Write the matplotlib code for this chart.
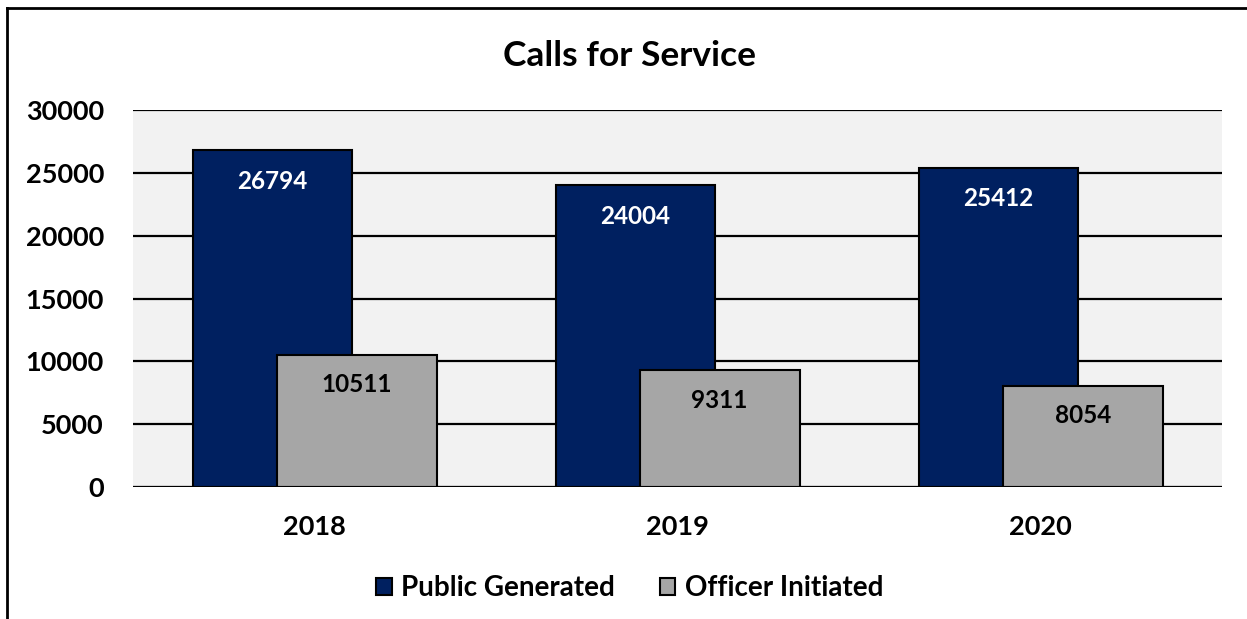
import matplotlib.pyplot as plt
from matplotlib.lines import Line2D
import numpy as np

years = ["2018", "2019", "2020"]
public_generated = [26794, 24004, 25412]
officer_initiated = [10511, 9311, 8054]

plt.rcParams['font.family'] = ['Lato', 'DejaVu Sans']
plt.rcParams['font.weight'] = 'bold'

fig = plt.figure(figsize=(12.47, 6.19), dpi=100)
ax = fig.add_axes([0.1067, 0.2132, 0.8733, 0.6091])
ax.set_facecolor('#F2F2F2')

x = np.arange(len(years))
w = 0.44
off = 0.116
b1 = ax.bar(x - off, public_generated, w, color='#002060', edgecolor='black', linewidth=1.5, zorder=3, label='Public Generated')
b2 = ax.bar(x + off, officer_initiated, w, color='#A6A6A6', edgecolor='black', linewidth=1.5, zorder=4, label='Officer Initiated')

for rect, v in zip(b1, public_generated):
    ax.annotate(str(v), (rect.get_x() + rect.get_width() / 2, v), xytext=(0, -31), textcoords='offset pixels',
                ha='center', va='center', color='white', fontsize=17.5, fontweight='bold', zorder=5)
for rect, v in zip(b2, officer_initiated):
    ax.annotate(str(v), (rect.get_x() + rect.get_width() / 2, v), xytext=(0, -30), textcoords='offset pixels',
                ha='center', va='center', color='black', fontsize=17.5, fontweight='bold', zorder=5)

ax.set_xlim(-0.5, 2.5)
ax.set_ylim(0, 30000)
ax.set_yticks(range(0, 30001, 5000))
ax.set_xticks(x)
ax.set_xticklabels(years)
ax.yaxis.grid(True, color='black', linewidth=1.6, zorder=1)
ax.set_axisbelow(True)
for s in ax.spines.values():
    s.set_visible(False)
ax.tick_params(axis='both', length=0, labelsize=19.5)
ax.tick_params(axis='y', pad=21)
ax.tick_params(axis='x', pad=20)
ax.axhline(0, color='black', linewidth=2.2, zorder=6)

fig.text(0.505, 0.909, "Calls for Service", ha='center', va='center', fontsize=25.5, fontweight='bold')

fig.legend(handles=[b1, b2], loc='center', bbox_to_anchor=(0.505, 0.05), ncol=2, frameon=False,
           fontsize=20, handlelength=0.55, handleheight=0.55, handletextpad=0.35, columnspacing=1.6)

# outer frame (left and top edges visible)
fig.add_artist(Line2D([7 / 1247, 7 / 1247], [0, 1 - 8 / 619], color='black', linewidth=2, transform=fig.transFigure))
fig.add_artist(Line2D([7 / 1247, 1], [1 - 8 / 619, 1 - 8 / 619], color='black', linewidth=2, transform=fig.transFigure))

fig.savefig("out.png", dpi=100)
